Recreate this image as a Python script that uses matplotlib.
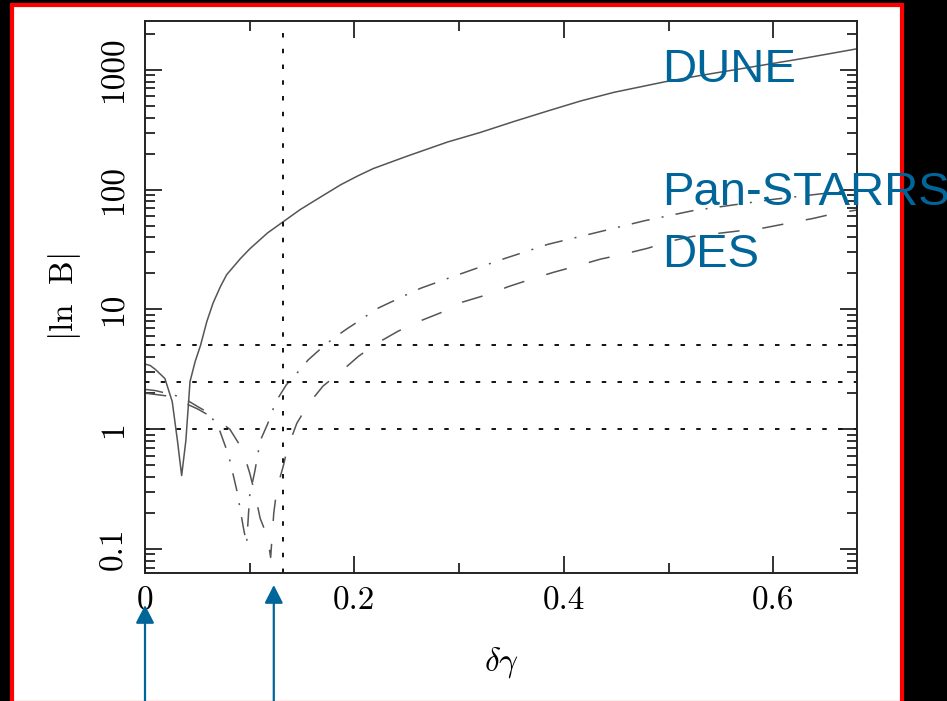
import matplotlib
matplotlib.use("Agg")
import matplotlib.pyplot as plt
import matplotlib.patches as mpatches
import matplotlib.transforms as mtransforms
from matplotlib.ticker import FixedLocator, NullFormatter, LogLocator

plt.rcParams["font.family"] = "serif"
plt.rcParams["font.serif"] = ["cmr10", "DejaVu Serif"]
plt.rcParams["mathtext.fontset"] = "cm"
plt.rcParams["axes.formatter.use_mathtext"] = True

# |ln B| versus delta-gamma for three surveys
dune_x = [0.0, 0.005, 0.01, 0.019, 0.026, 0.031, 0.035, 0.039, 0.043, 0.048, 0.053,
          0.059, 0.065, 0.072, 0.078, 0.091, 0.1, 0.117, 0.132, 0.148, 0.165, 0.187,
          0.203, 0.218, 0.25, 0.289, 0.32, 0.352, 0.385, 0.416, 0.448, 0.496, 0.531,
          0.58, 0.627, 0.68]
dune_y = [3.5, 3.4, 3.15, 2.65, 1.7, 0.8, 0.41, 0.8, 2.5, 3.7, 5.0,
          7.9, 11.3, 15.5, 19.5, 26.5, 32, 43.5, 54, 68, 84, 110,
          130, 150, 190, 250, 300, 370, 455, 550, 650, 794, 900,
          1060, 1240, 1500]

ps_x = [0.0, 0.01, 0.02, 0.03, 0.04, 0.05, 0.06, 0.07, 0.08, 0.088, 0.094, 0.097,
        0.1, 0.105, 0.11, 0.117, 0.125, 0.135, 0.146, 0.156, 0.169, 0.18, 0.193,
        0.208, 0.22, 0.25, 0.263, 0.294, 0.34, 0.385, 0.43, 0.477, 0.524, 0.6, 0.68]
ps_y = [2.15, 2.1, 2.0, 1.9, 1.75, 1.55, 1.38, 1.05, 0.6, 0.3, 0.15, 0.11,
        0.28, 0.45, 0.8, 1.1, 1.7, 2.35, 3.0, 3.8, 4.8, 5.75, 6.9,
        8.4, 10.0, 13.3, 15.0, 18.8, 26.0, 35.0, 43.6, 55.0, 67.0, 83.0, 100.0]

des_x = [0.0, 0.01, 0.02, 0.03, 0.04, 0.05, 0.06, 0.07, 0.081, 0.093, 0.1, 0.105,
         0.11, 0.117, 0.12, 0.123, 0.126, 0.132, 0.136, 0.145, 0.156, 0.17, 0.187,
         0.204, 0.222, 0.242, 0.261, 0.284, 0.303, 0.327, 0.347, 0.368, 0.39,
         0.411, 0.435, 0.456, 0.48, 0.502, 0.523, 0.591, 0.638, 0.658, 0.68]
des_y = [2.0, 1.95, 1.9, 1.78, 1.62, 1.48, 1.32, 1.17, 1.0, 0.68, 0.43, 0.29,
         0.18, 0.126, 0.085, 0.2, 0.32, 0.49, 0.69, 1.12, 1.62, 2.29, 3.02,
         4.07, 5.25, 6.6, 7.9, 9.5, 11.5, 13.3, 15.5, 17.8, 20.4,
         22.9, 26.3, 28.8, 32.4, 37.2, 40.7, 47.9, 57.5, 63.1, 67.6]

# reference thresholds and marked delta-gamma
threshold_levels = [1.0, 2.5, 5.0]
marker_dgamma = 0.132
arrow_dgamma = [0.0, 0.123]

survey_names = ["DUNE", "Pan-STARRS", "DES"]
x_ticks = [0.0, 0.2, 0.4, 0.6]
x_tick_labels = ["0", "0.2", "0.4", "0.6"]
y_ticks = [0.1, 1, 10, 100, 1000]
y_tick_labels = ["0.1", "1", "10", "100", "1000"]

W, H = 947, 701
fig = plt.figure(figsize=(W / 100, H / 100), dpi=100, facecolor="black")

# white slide panel with a red frame
frame = mpatches.Rectangle((12 / W, 1 - 703 / H), 890 / W, 698 / H,
                           transform=fig.transFigure, facecolor="white",
                           edgecolor="#ff0000", linewidth=3.0, zorder=0)
fig.add_artist(frame)

ax = fig.add_axes([145 / W, 1 - 573 / H, 712 / W, 552 / H])
ax.set_facecolor("white")
ax.set_yscale("log")
ax.set_xlim(0, 0.680)
ax.set_ylim(0.063, 2560)

curve_color = "#555555"
ax.plot(dune_x, dune_y, color=curve_color, lw=1.1, solid_joinstyle="round")
ax.plot(ps_x, ps_y, color=curve_color, lw=1.1, linestyle=(0, (12, 8, 1.3, 8)))
ax.plot(des_x, des_y, color=curve_color, lw=1.1, linestyle=(0, (14, 15)))

dot_style = dict(color="#111111", lw=1.4, linestyle=(0, (2.3, 5.8)))
for lvl in threshold_levels:
    ax.axhline(lvl, **dot_style)
ax.axvline(marker_dgamma, **dot_style)

for s in ax.spines.values():
    s.set_linewidth(1.4)
    s.set_color("#222222")

ax.set_xticks(x_ticks)
ax.set_xticklabels(x_tick_labels, fontsize=24)
ax.xaxis.set_minor_locator(FixedLocator([0.1, 0.3, 0.5]))
ax.set_yticks(y_ticks)
ax.set_yticklabels(y_tick_labels, fontsize=24, rotation=90, va="center")
ax.yaxis.set_minor_locator(LogLocator(base=10, subs=range(2, 10), numticks=20))
ax.yaxis.set_minor_formatter(NullFormatter())
ax.tick_params(which="both", direction="in", top=True, right=True, color="#222222")
ax.tick_params(which="major", length=12, width=1.3)
ax.tick_params(which="minor", length=7, width=1.3)
ax.tick_params(axis="x", which="major", pad=10)
ax.tick_params(axis="y", which="major", pad=12)

ax.set_xlabel(r"$\delta\gamma$", fontsize=24, va="center")
ax.xaxis.set_label_coords(0.5, (573 - 663) / 552)
ax.set_ylabel(r"$|\mathrm{ln}\ \ \mathrm{B}|$", fontsize=24, va="center")
ax.yaxis.set_label_coords((64 - 145) / 712, 0.5)

# survey names
blue = "#006699"
name_baselines = [82, 205, 267]
for name, yb in zip(survey_names, name_baselines):
    fig.text(662 / W, 1 - yb / H, name, color=blue, fontsize=34,
             family="Liberation Sans", ha="left", va="baseline", zorder=5)

# arrows pointing at the axis
blend = mtransforms.blended_transform_factory(ax.transData, fig.transFigure)
arrow_tips = [605, 585]
for xd, tip in zip(arrow_dgamma, arrow_tips):
    ax.annotate("", xy=(xd, 1 - tip / H), xycoords=blend,
                xytext=(xd, 0.0), textcoords=blend,
                arrowprops=dict(arrowstyle="-|>,head_length=0.55,head_width=0.28",
                                mutation_scale=20, color=blue, lw=1.6,
                                shrinkA=0, shrinkB=0),
                annotation_clip=False)

fig.savefig("out.png", dpi=100, facecolor="black")
